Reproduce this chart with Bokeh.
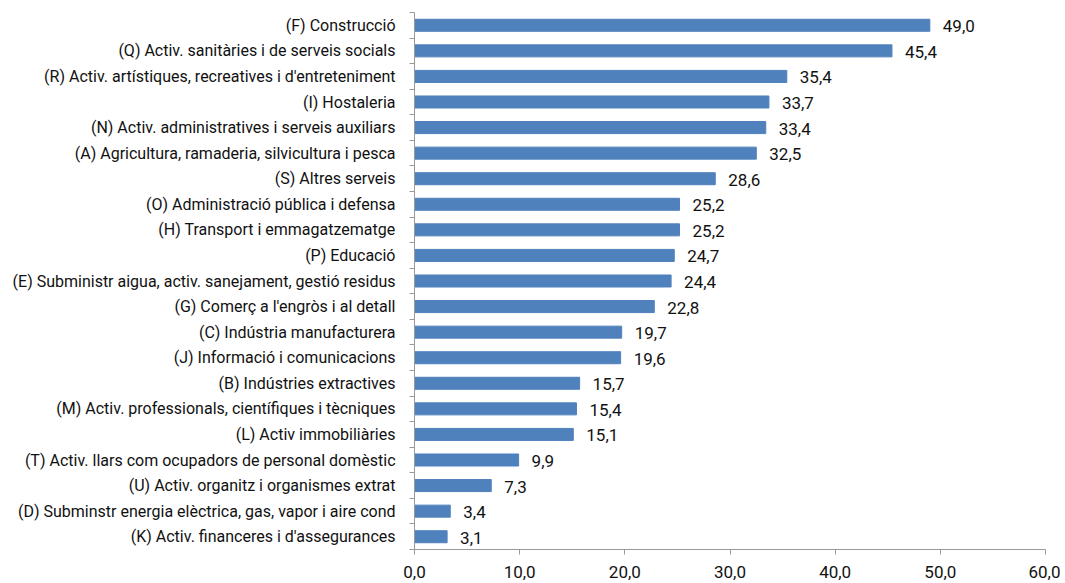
from bokeh.plotting import figure
from bokeh.models import ColumnDataSource, FixedTicker, Range1d
from bokeh.core.properties import value
from bokeh.embed import file_html
from bokeh.resources import INLINE

categories = [
    "(F) Construcció",
    "(Q) Activ. sanitàries i de serveis socials",
    "(R) Activ. artístiques, recreatives i d'entreteniment",
    "(I) Hostaleria",
    "(N) Activ. administratives i serveis auxiliars",
    "(A) Agricultura, ramaderia, silvicultura i pesca",
    "(S) Altres serveis",
    "(O) Administració pública i defensa",
    "(H) Transport i emmagatzematge",
    "(P) Educació",
    "(E) Subministr aigua, activ. sanejament, gestió residus",
    "(G) Comerç a l'engròs i al detall",
    "(C) Indústria manufacturera",
    "(J) Informació i comunicacions",
    "(B) Indústries extractives",
    "(M) Activ. professionals, científiques i tècniques",
    "(L) Activ immobiliàries",
    "(T) Activ. llars com ocupadors de personal domèstic",
    "(U) Activ. organitz i organismes extrat",
    "(D) Subminstr energia elèctrica, gas, vapor i aire cond",
    "(K) Activ. financeres i d'assegurances",
]
values = [49.0, 45.4, 35.4, 33.7, 33.4, 32.5, 28.6, 25.2, 25.2, 24.7, 24.4,
          22.8, 19.7, 19.6, 15.7, 15.4, 15.1, 9.9, 7.3, 3.4, 3.1]
x_ticks = [0, 10, 20, 30, 40, 50, 60]

n = len(categories)
ypos = [n - i - 0.5 for i in range(n)]
labels = [f"{v:.1f}".replace(".", ",") for v in values]

src = ColumnDataSource(dict(y=ypos, v=values, lab=labels))

FONT = "Roboto"
FS = "16px"

p = figure(width=1060, height=580, output_backend="svg", toolbar_location=None,
           x_range=Range1d(0, 60), y_range=Range1d(0, n),
           min_border_left=414, min_border_right=15, min_border_top=12,
           min_border_bottom=31)
p.outline_line_color = None
p.grid.grid_line_color = None

p.hbar(y="y", right="v", left=0, height=0.47, source=src,
       fill_color="#4F81BD", line_color="#4F81BD")
p.text(x="v", y="y", text="lab", source=src, x_offset=13, y_offset=1,
       text_baseline="middle", text_align="left",
       text_font=value(FONT), text_font_size="17px", text_color="#111111")

# x axis
p.xaxis.ticker = FixedTicker(ticks=x_ticks)
p.xaxis.major_label_overrides = {t: f"{t:.1f}".replace(".", ",") for t in x_ticks}
p.xaxis.minor_tick_line_color = None
p.xaxis.major_tick_in = 0
p.xaxis.major_tick_out = 5
p.xaxis.axis_line_color = "#999999"
p.xaxis.major_tick_line_color = "#999999"
p.xaxis.major_label_text_font = FONT
p.xaxis.major_label_text_font_size = "17px"
p.xaxis.major_label_text_color = "#111111"
p.xaxis.major_label_standoff = 11

# y axis
p.yaxis.ticker = FixedTicker(ticks=ypos, minor_ticks=list(range(n + 1)))
p.yaxis.major_label_overrides = {y: c for y, c in zip(ypos, categories)}
p.yaxis.major_tick_in = 0
p.yaxis.major_tick_out = 0
p.yaxis.minor_tick_in = 0
p.yaxis.minor_tick_out = 5
p.yaxis.axis_line_color = "#999999"
p.yaxis.minor_tick_line_color = "#999999"
p.yaxis.major_label_text_font = FONT
p.yaxis.major_label_text_font_size = FS
p.yaxis.major_label_text_color = "#111111"
p.yaxis.major_label_standoff = 14

open("out.html", "w").write(file_html(p, INLINE))
